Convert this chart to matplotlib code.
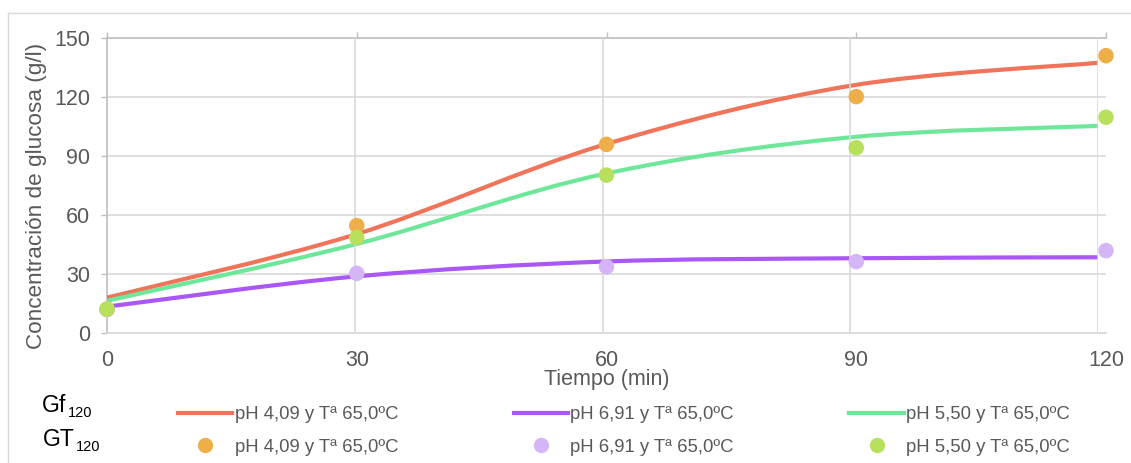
import matplotlib
matplotlib.use("Agg")
import matplotlib.pyplot as plt
import numpy as np
from matplotlib.lines import Line2D
from matplotlib.path import Path
from matplotlib.patches import PathPatch

plt.rcParams['font.family'] = ['Liberation Sans', 'DejaVu Sans']

# --- Data ---
tiempo = [0, 30, 60, 90, 120]
tick_labels = ['0', '30', '60', '90', '120']
series_labels = ['pH 4,09 y Tª 65,0ºC', 'pH 6,91 y Tª 65,0ºC', 'pH 5,50 y Tª 65,0ºC']

# fitted model (Gf120)
gf_ph409 = [18.0, 50.0, 95.5, 125.7, 137.4]
gf_ph691 = [13.4, 28.7, 36.3, 38.0, 38.5]
gf_ph550 = [16.4, 45.0, 80.7, 99.5, 105.3]

# experimental (GT120)
gt_ph409 = [12.0, 54.6, 95.9, 120.2, 141.0]
gt_ph691 = [12.0, 30.3, 33.7, 36.3, 41.9]
gt_ph550 = [12.2, 48.6, 80.3, 94.2, 109.7]

line_colors = ['#EF7459', '#A957F5', '#6FE79B']
dot_colors = ['#EEAF4B', '#D4B6F6', '#B8E05C']
text_gray = '#595959'
grid_gray = '#D9D9D9'

W, H = 1131, 463


def px_rect(x0, y0, x1, y1):
    # pixel box (top-left origin) -> figure fraction rect
    return [x0 / W, 1 - y1 / H, (x1 - x0) / W, (y1 - y0) / H]


def smooth_path(x, y):
    # smoothed line through the points, cubic bezier segments
    pts = np.column_stack([x, y]).astype(float)
    n = len(pts)
    verts = [pts[0]]
    codes = [Path.MOVETO]
    for i in range(n - 1):
        p0 = pts[max(i - 1, 0)]
        p1 = pts[i]
        p2 = pts[i + 1]
        p3 = pts[min(i + 2, n - 1)]
        verts += [p1 + (p2 - p0) / 6, p2 - (p3 - p1) / 6, p2]
        codes += [Path.CURVE4] * 3
    return Path(verts, codes)


fig = plt.figure(figsize=(W / 100, H / 100), dpi=100)

# outer chart frame (top and left edge only visible)
fig.add_artist(Line2D([8 / W, 1], [1 - 13 / H] * 2, color=grid_gray, lw=1))
fig.add_artist(Line2D([8 / W] * 2, [0, 1 - 13 / H], color=grid_gray, lw=1))

# base axes: horizontal grid, spines, labels
ax = fig.add_axes(px_rect(107, 38, 1106, 333))
ax.set_xlim(0, 120)
ax.set_ylim(0, 150)
ax.set_yticks(np.arange(0, 151, 30))
ax.set_xticks(tiempo)
ax.set_xticklabels(tick_labels)
ax.grid(axis='y', color=grid_gray, lw=1.2)
ax.set_axisbelow(True)
for side in ['left', 'top']:
    ax.spines[side].set_color('#BFBFBF')
    ax.spines[side].set_linewidth(1.2)
ax.spines['bottom'].set_color(grid_gray)
ax.spines['bottom'].set_linewidth(1.2)
ax.spines['right'].set_visible(False)
ax.tick_params(axis='y', length=4, width=1, color='#BFBFBF', pad=8,
               labelsize=15.5, labelcolor=text_gray)
ax.tick_params(axis='x', bottom=False, top=True, length=4, width=1, color='#BFBFBF',
               pad=8, labelsize=15.5, labelcolor=text_gray)
ax.set_ylabel('Concentración de glucosa (g/l)', fontsize=16.2, color=text_gray)
ax.yaxis.set_label_coords(-0.060, 0.464)
ax.set_xlabel('Tiempo (min)', fontsize=15.5, color=text_gray, labelpad=-1.5)

# model curves on their own x scale with vertical grid
axl = fig.add_axes(px_rect(107, 38, 1098, 333), sharey=ax)
axl.patch.set_visible(False)
axl.set_xlim(0, 120)
axl.set_xticks([30, 60, 90, 120])
axl.grid(axis='x', color=grid_gray, lw=1.2)
axl.tick_params(length=0, labelbottom=False, labelleft=False)
for s in axl.spines.values():
    s.set_visible(False)
for vals, c in zip([gf_ph409, gf_ph691, gf_ph550], line_colors):
    axl.add_patch(PathPatch(smooth_path(tiempo, vals), fill=False, edgecolor=c,
                            lw=3, capstyle='round', joinstyle='round'))

# experimental points on top
axp = fig.add_axes(px_rect(107, 38, 1106, 333), sharey=ax)
axp.set_xlim(0, 120)
axp.axis('off')
for vals, c in zip([gt_ph409, gt_ph691, gt_ph550], dot_colors):
    axp.scatter(tiempo, vals, s=125, color=c, edgecolors='none', clip_on=False, zorder=3)

# legend: lines on first row, points on second
handles, labels = [], []
for lab, lc, dc in zip(series_labels, line_colors, dot_colors):
    handles.append(Line2D([], [], color=lc, lw=3))
    labels.append(lab)
    handles.append(Line2D([], [], ls='none', marker='o', ms=11, color=dc, mec='none'))
    labels.append(lab)
leg = fig.legend(handles, labels, loc='upper left', bbox_to_anchor=(178 / W, 1 - 406 / H),
                 ncol=3, frameon=False, borderpad=0, borderaxespad=0, fontsize=13.3,
                 handlelength=2.95, handletextpad=0.12, columnspacing=6.25,
                 labelspacing=0.86)
for t in leg.get_texts():
    t.set_color(text_gray)

for name, xpx, ypx in [('Gf', 42, 412), ('GT', 43, 446)]:
    t = fig.text(xpx / W, 1 - ypx / H, name, fontsize=16.5, color='black', va='baseline')
    fig.canvas.draw()
    ax.annotate('120', xy=(1, 0), xycoords=t, xytext=(1, 0),
                textcoords='offset points', fontsize=10.5, color='black',
                ha='left', va='baseline', annotation_clip=False)

fig.savefig('out.png', dpi=100)
